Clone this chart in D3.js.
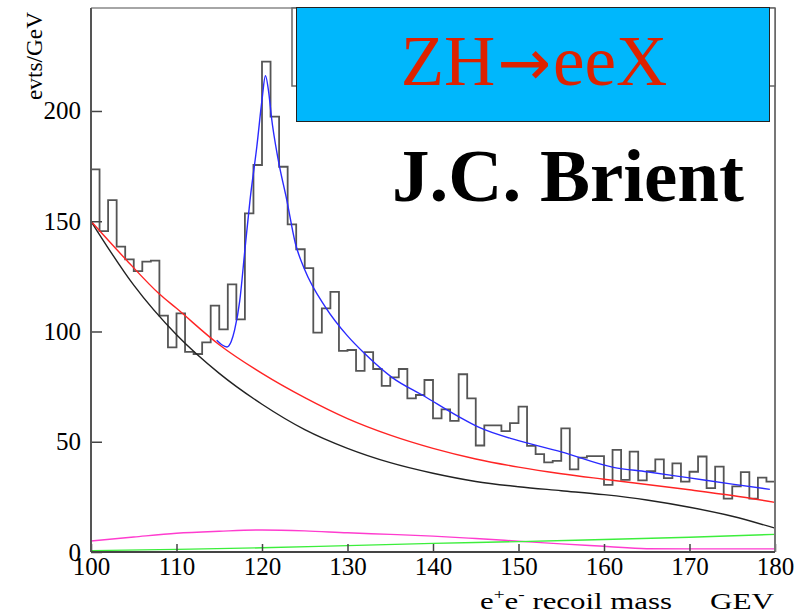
<!DOCTYPE html>
<meta charset="utf-8">
<style>
body { margin: 0; background: #fff; }
svg { display: block; }
.tick text { font-family: "Liberation Serif", "Times New Roman", serif; font-size: 25px; fill: #000; }
.tick line { stroke: #444; stroke-width: 1.5px; }
.hist { fill: none; stroke: #555; stroke-width: 1.8px; }
.fit { fill: none; stroke-width: 1.4px; }
</style>
<svg width="810" height="614"></svg>
<script src="https://cdn.jsdelivr.net/npm/d3@7"></script>
<script>

// recoil mass histogram, 1 GeV bins from 100 to 180
var massMin = 100, massMax = 180, binWidth = 1;
var counts = [
  173.5, 145.5, 159.6, 138.5, 132.7, 127.4, 131.7, 132.1, 107.2, 92.8,
  108.2, 90.8, 89.8, 95.1, 111.7, 101.0, 121.4, 105.5, 153.6, 175.5,
  222.4, 197.4, 174.7, 148.6, 137.3, 128.7, 99.5, 110.5, 118.0, 91.2,
  91.6, 82.1, 90.6, 83.0, 75.3, 79.2, 83.0, 69.7, 71.2, 78.0,
  60.6, 64.7, 59.5, 80.6, 69.7, 48.3, 57.4, 57.4, 54.8, 58.4,
  65.9, 48.1, 44.4, 40.6, 41.3, 56.1, 37.5, 42.8, 43.5, 43.5,
  30.4, 46.3, 32.7, 45.5, 32.5, 36.7, 42.0, 33.5, 40.2, 31.9,
  36.4, 43.3, 29.0, 38.7, 24.2, 29.8, 36.2, 24.2, 33.7, 31.9
];

var xTicks = [100, 110, 120, 130, 140, 150, 160, 170, 180];
var yTicks = [0, 50, 100, 150, 200];

// fitted curves, [mass, evts/GeV]
var blackFit = [[100,150],[105,121],[110,98.5],[115,81],[120,67],[125,55.5],[130,47],
  [135,40.5],[140,35.7],[145,32],[150,29.6],[155,27.8],[160,26],[165,23.6],[170,20.3],
  [175,16.2],[180,10.8]];
var redFit = [[100,150],[104,133],[108,117],[110,110.5],[115,94],[120,81],[125,70],
  [130,60.5],[135,53],[140,47],[145,42.2],[150,38.5],[155,35.5],[160,33],[165,30.6],
  [170,28.2],[175,25.6],[180,22.5]];
var blueFit = [[114.7,96],[115.3,94],[115.9,93],[116.4,95.5],[116.8,100.7],[117.4,114],
  [118,137],[118.6,159.6],[119.4,184],[120,205],[120.4,216],[120.8,208],[121.1,197.4],
  [121.9,177.8],[122.9,159.6],[123.9,140],[125,128],[127.4,111.2],[130,98],[132,90],
  [135.2,79.2],[139.1,70.4],[143,61.4],[145.4,56.5],[150,50.5],[155,45.4],[161.1,38.4],
  [165,36.4],[170,33.6],[175,30.8],[179.4,28.4]];
var magentaBkg = [[100,5],[105,6.8],[110,8.5],[115,9.4],[120,10],[125,9.6],[130,8.7],
  [135,8],[140,7.2],[145,6.1],[150,4.9],[155,3.7],[160,2.6],[165,1.5],[170,1.4],[175,1.4],[180,1.4]];
var greenBkg = [[100,0.6],[110,1.2],[120,1.9],[130,2.9],[140,3.9],[150,4.7],[160,5.7],
  [170,6.7],[180,8]];

var svg = d3.select("svg"),
    x = d3.scaleLinear().domain([massMin, massMax]).range([91, 775]),
    y = d3.scaleLinear().domain([0, 246.7]).range([552, 8]);

var serif = '"Liberation Serif", "Times New Roman", serif';

// histogram outline
var steps = counts.map(function(c, i) { return [massMin + i * binWidth, c]; });
steps.push([massMax, counts[counts.length - 1]]);

svg.append("path")
    .attr("class", "hist")
    .attr("d", d3.line().curve(d3.curveStepAfter)
      .x(function(d) { return x(d[0]); })
      .y(function(d) { return y(d[1]); })(steps));

var curve = d3.line().curve(d3.curveMonotoneX)
    .x(function(d) { return x(d[0]); })
    .y(function(d) { return y(d[1]); });

[[magentaBkg, "#ff3ccf"], [greenBkg, "#3cee3c"], [blackFit, "#222"],
 [redFit, "#ff2424"], [blueFit, "#2a2aff"]].forEach(function(c) {
  svg.append("path")
      .attr("class", "fit")
      .attr("d", curve(c[0]))
      .style("stroke", c[1]);
});

// axes
svg.append("g")
    .attr("transform", "translate(0,552)")
    .call(d3.axisBottom(x).tickValues(xTicks).tickSize(-8).tickSizeOuter(0).tickPadding(5)
      .tickFormat(d3.format("d")))
    .call(function(g) { g.select(".domain").remove(); });

svg.append("g")
    .attr("transform", "translate(91,0)")
    .call(d3.axisLeft(y).tickValues(yTicks).tickSize(-11).tickSizeOuter(0).tickPadding(10))
    .call(function(g) { g.select(".domain").remove(); });

// frame
svg.append("line").attr("x1", 91).attr("x2", 775).attr("y1", 8).attr("y2", 8)
    .style("stroke", "#888").style("stroke-width", 1.5);
svg.append("line").attr("x1", 775).attr("x2", 775).attr("y1", 8).attr("y2", 552)
    .style("stroke", "#777").style("stroke-width", 2);
svg.append("line").attr("x1", 91).attr("x2", 91).attr("y1", 8).attr("y2", 552)
    .style("stroke", "#555").style("stroke-width", 2);
svg.append("line").attr("x1", 91).attr("x2", 775).attr("y1", 552).attr("y2", 552)
    .style("stroke", "#444").style("stroke-width", 2);

// title boxes
svg.append("rect").attr("x", 292).attr("y", 8).attr("width", 483).attr("height", 78)
    .style("fill", "#fff").style("stroke", "#666").style("stroke-width", 1.5);
svg.append("rect").attr("x", 296.5).attr("y", 7.5).attr("width", 473).attr("height", 114)
    .style("fill", "#00b7fc").style("stroke", "#222").style("stroke-width", 1);

var title = svg.append("text")
    .attr("x", 534).attr("y", 85)
    .attr("text-anchor", "middle")
    .style("font-family", serif).style("font-size", "71px").style("fill", "#dd2200");
title.append("tspan").text("ZH");
title.append("tspan").attr("dx", 2).style("font-family", '"DejaVu Sans", sans-serif')
    .style("font-size", "64px").text("\u2192");
title.append("tspan").attr("dx", 2).text("eeX");

svg.append("text")
    .attr("x", 392).attr("y", 201)
    .style("font-family", serif).style("font-size", "75px").style("font-weight", "bold")
    .text("J.C. Brient");

// axis titles
svg.append("text")
    .attr("transform", "translate(42,100) rotate(-90)")
    .attr("textLength", 88).attr("lengthAdjust", "spacingAndGlyphs")
    .style("font-family", serif).style("font-size", "23px")
    .text("evts/GeV");

var xt = svg.append("text")
    .attr("x", 480).attr("y", 609)
    .attr("textLength", 192).attr("lengthAdjust", "spacingAndGlyphs")
    .style("font-family", serif).style("font-size", "24px");
xt.append("tspan").text("e");
xt.append("tspan").attr("dy", -10).style("font-size", "15px").text("+");
xt.append("tspan").attr("dy", 10).text("e");
xt.append("tspan").attr("dy", -10).style("font-size", "15px").text("-");
xt.append("tspan").attr("dy", 10).text(" recoil mass");

svg.append("text")
    .attr("x", 710).attr("y", 609)
    .attr("textLength", 64).attr("lengthAdjust", "spacingAndGlyphs")
    .style("font-family", serif).style("font-size", "24px")
    .text("GEV");

</script>
